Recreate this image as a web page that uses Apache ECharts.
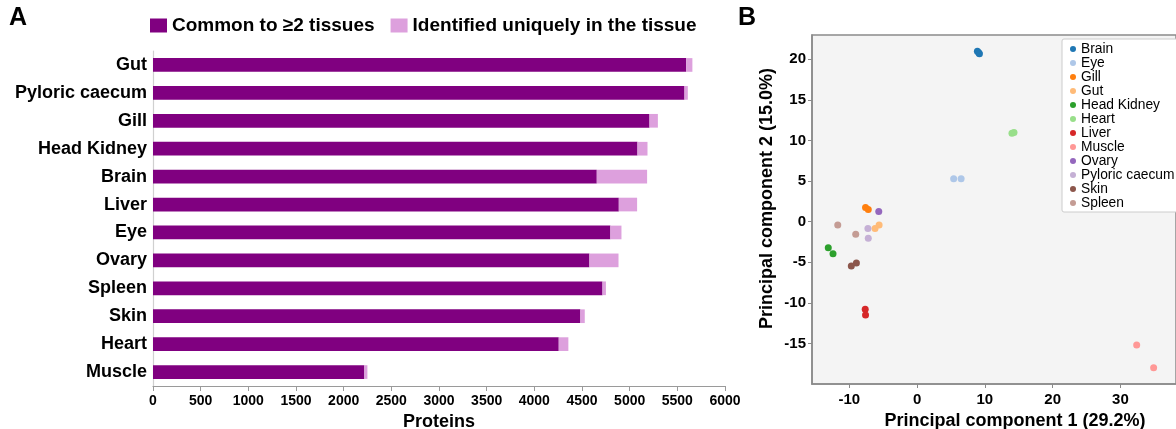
<!DOCTYPE html>
<html>
<head>
<meta charset="utf-8">
<script src="https://cdn.jsdelivr.net/npm/echarts@6/dist/echarts.min.js"></script>
<style>
html,body{margin:0;padding:0;background:#fff;}
#chart{width:1176px;height:429px;}
</style>
</head>
<body>
<div id="chart"></div>
<script>
// ---- Panel A data ----
const tissuesA = ['Gut','Pyloric caecum','Gill','Head Kidney','Brain','Liver','Eye','Ovary','Spleen','Skin','Heart','Muscle'];
const commonCounts = [5593,5575,5208,5082,4655,4886,4798,4578,4715,4483,4256,2217];
const uniqueCounts = [65,35,88,105,528,192,116,305,36,46,101,32];
const proteinTicks = [0,500,1000,1500,2000,2500,3000,3500,4000,4500,5000,5500,6000];

// ---- Panel B data (PC1, PC2 per replicate) ----
const tissuesB = ['Brain','Eye','Gill','Gut','Head Kidney','Heart','Liver','Muscle','Ovary','Pyloric caecum','Skin','Spleen'];
const colorsB = ['#1f77b4','#aec7e8','#ff7f0e','#ffbb78','#2ca02c','#98df8a','#d62728','#ff9896','#9467bd','#c5b0d5','#8c564b','#c49c94'];
const pcaBrain = [[8.9,21.0],[9.1,20.8],[9.2,20.7]];
const pcaEye = [[5.4,5.3],[6.5,5.3]];
const pcaGill = [[-7.6,1.75],[-7.2,1.5]];
const pcaGut = [[-5.6,-0.4],[-6.2,-0.85]];
const pcaHeadKidney = [[-13.1,-3.2],[-12.4,-3.95]];
const pcaHeart = [[14.0,10.9],[14.3,11.0]];
const pcaLiver = [[-7.65,-10.8],[-7.6,-11.5]];
const pcaMuscle = [[32.4,-15.2],[34.9,-18.0]];
const pcaOvary = [[-5.65,1.25]];
const pcaPyloric = [[-7.25,-0.85],[-7.2,-2.05]];
const pcaSkin = [[-9.7,-5.45],[-8.95,-5.1]];
const pcaSpleen = [[-11.7,-0.4],[-9.05,-1.55]];
const pcaData = [pcaBrain,pcaEye,pcaGill,pcaGut,pcaHeadKidney,pcaHeart,pcaLiver,pcaMuscle,pcaOvary,pcaPyloric,pcaSkin,pcaSpleen];
const pc1Ticks = [-10,0,10,20,30];
const pc2Ticks = [-15,-10,-5,0,5,10,15,20];

const FONT = '"Liberation Sans", Arial, Helvetica, sans-serif';
const chart = echarts.init(document.getElementById('chart'));

const scatterSeries = tissuesB.map((t,i)=>({
  name: t,
  type: 'scatter',
  xAxisIndex: 1,
  yAxisIndex: 1,
  data: pcaData[i],
  symbolSize: 7,
  itemStyle: {color: colorsB[i], opacity: 1},
  z: 3
}));

chart.setOption({
  animation: false,
  textStyle: {fontFamily: FONT},
  graphic: [
    {type:'text', left: 9, top: 6, style:{text:'A', font:'bold 25px ' + FONT, fill:'#000'}},
    {type:'text', left: 738, top: 6, style:{text:'B', font:'bold 25px ' + FONT, fill:'#000'}}
  ],
  legend: [
    {
      data: ['Common to ≥2 tissues','Identified uniquely in the tissue'],
      left: 150, top: 16,
      itemWidth: 17, itemHeight: 14, itemGap: 16,
      icon: 'rect',
      padding: 0,
      textStyle: {fontSize: 19, fontWeight: 'bold', color: '#000', fontFamily: FONT}
    },
    {
      data: tissuesB,
      orient: 'vertical',
      left: 1062, top: 39,
      icon: 'circle',
      itemWidth: 6, itemHeight: 6, itemGap: 0,
      padding: [3, 40, 2, 8],
      backgroundColor: '#ffffff',
      borderColor: '#cccccc', borderWidth: 1, borderRadius: 2,
      textStyle: {fontSize: 13.8, color: '#000', lineHeight: 13.9, fontFamily: FONT}
    }
  ],
  grid: [
    {left: 153, right: 451, top: 51, bottom: 43, outerBoundsMode: 'none', containLabel: false},
    {left: 812, right: 0, top: 35, bottom: 45, outerBoundsMode: 'none', containLabel: false,
     show: true, backgroundColor: '#f4f4f4', borderColor: '#8a8a8a', borderWidth: 1.5}
  ],
  xAxis: [
    {
      gridIndex: 0, type: 'value', min: 0, max: 6000, interval: 500,
      name: 'Proteins', nameLocation: 'middle', nameGap: 19,
      nameTextStyle: {fontSize: 18, fontWeight: 'bold', color: '#000'},
      axisLine: {show: true, lineStyle: {color: '#9a9a9a', width: 1.2}},
      axisTick: {show: true, length: 5, lineStyle: {color: '#9a9a9a'}},
      axisLabel: {fontSize: 14, fontWeight: 'bold', color: '#000', margin: 8,
                  formatter: v => String(v)},
      splitLine: {show: false}
    },
    {
      gridIndex: 1, type: 'value', min: -15.5, max: 38.2,
      name: 'Principal component 1 (29.2%)', nameLocation: 'middle', nameGap: 24,
      nameTextStyle: {fontSize: 18, fontWeight: 'bold', color: '#000', padding: [0,0,0,42]},
      axisLine: {show: true, onZero: false, lineStyle: {color: '#8a8a8a', width: 1.5}},
      axisTick: {show: true, length: 4, customValues: pc1Ticks, lineStyle: {color: '#8a8a8a'}},
      axisLabel: {fontSize: 15, fontWeight: 'bold', color: '#000', margin: 8, customValues: pc1Ticks},
      splitLine: {show: false}
    }
  ],
  yAxis: [
    {
      gridIndex: 0, type: 'category', data: tissuesA, inverse: true,
      axisLine: {show: true, lineStyle: {color: '#d0d0d0', width: 1.2}},
      axisTick: {show: false},
      axisLabel: {fontSize: 18, fontWeight: 'bold', color: '#000', margin: 6}
    },
    {
      gridIndex: 1, type: 'value', min: -20, max: 23,
      name: 'Principal component 2 (15.0%)', nameLocation: 'middle', nameGap: 36, nameRotate: 90,
      nameTextStyle: {fontSize: 18, fontWeight: 'bold', color: '#000', padding: [0,0,0,22]},
      axisLine: {show: true, onZero: false, lineStyle: {color: '#8a8a8a', width: 1.5}},
      axisTick: {show: true, length: 4, customValues: pc2Ticks, lineStyle: {color: '#8a8a8a'}},
      axisLabel: {fontSize: 15, fontWeight: 'bold', color: '#000', margin: 6, customValues: pc2Ticks},
      splitLine: {show: false}
    }
  ],
  series: [
    {
      name: 'Common to ≥2 tissues', type: 'bar', stack: 'total',
      xAxisIndex: 0, yAxisIndex: 0, data: commonCounts,
      barWidth: '49%', itemStyle: {color: '#800080'}
    },
    {
      name: 'Identified uniquely in the tissue', type: 'bar', stack: 'total',
      xAxisIndex: 0, yAxisIndex: 0, data: uniqueCounts,
      barWidth: '49%', itemStyle: {color: '#dda0dd'}
    }
  ].concat(scatterSeries)
});
</script>
</body>
</html>
